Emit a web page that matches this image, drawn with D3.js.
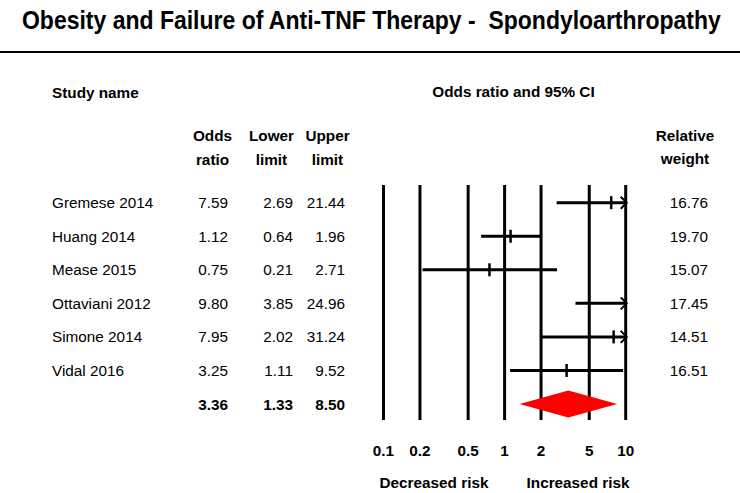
<!DOCTYPE html>
<html><head><meta charset="utf-8">
<script src="https://cdn.jsdelivr.net/npm/d3@7"></script>
<style>body{margin:0;background:#fff}svg{display:block}text{font-family:"Liberation Sans",Arial,sans-serif;fill:#000}</style>
</head><body>
<script>
const studies = ["Gremese 2014","Huang 2014","Mease 2015","Ottaviani 2012","Simone 2014","Vidal 2016"];
const oddsRatio = [7.59,1.12,0.75,9.80,7.95,3.25];
const lowerLimit = [2.69,0.64,0.21,3.85,2.02,1.11];
const upperLimit = [21.44,1.96,2.71,24.96,31.24,9.52];
const weights = ["16.76","19.70","15.07","17.45","14.51","16.51"];
const summary = {or:3.36, lo:1.33, hi:8.50};
const ticks = [0.1,0.2,0.5,1,2,5,10];

const W=740,H=493;
const svg=d3.select("body").append("svg").attr("width",W).attr("height",H);
const x=d3.scaleLog().domain([0.1,10]).range([383.5,625.7]);
const rows=[...studies,"summary"];
const y=d3.scalePoint().domain(rows).range([202.7,404]);

svg.append("text").attr("transform","translate(22,29) scale(1,1.1)").attr("font-size",23).attr("font-weight","bold")
  .attr("xml:space","preserve").style("white-space","pre")
  .text("Obesity and Failure of Anti-TNF Therapy -  Spondyloarthropathy");
svg.append("line").attr("x1",0).attr("x2",W).attr("y1",52).attr("y2",52).attr("stroke","#000").attr("stroke-width",2);

const fs=15.3;
function t(xp,yp,s,anchor,bold){return svg.append("text").attr("x",xp).attr("y",yp).attr("font-size",fs)
  .attr("text-anchor",anchor||"start").attr("font-weight",bold?"bold":"normal").attr("dominant-baseline","central").text(s);}
t(52,92,"Study name","start",true);
t(513.5,91,"Odds ratio and 95% CI","middle",true);
t(212.5,135,"Odds","middle",true); t(212.5,159,"ratio","middle",true);
t(271.5,135,"Lower","middle",true); t(271.5,159,"limit","middle",true);
t(327.5,135,"Upper","middle",true); t(327.5,159,"limit","middle",true);
t(685,135,"Relative","middle",true); t(685,158,"weight","middle",true);

studies.forEach((s,i)=>{
  const yy=y(s);
  t(52,yy,s);
  t(228,yy,oddsRatio[i].toFixed(2),"end");
  t(293,yy,lowerLimit[i].toFixed(2),"end");
  t(345,yy,upperLimit[i].toFixed(2),"end");
  t(708,yy,weights[i],"end");
});
const ys=y("summary");
t(228,ys,summary.or.toFixed(2),"end",true);
t(293,ys,summary.lo.toFixed(2),"end",true);
t(345,ys,summary.hi.toFixed(2),"end",true);

// vertical grid lines at ticks
svg.append("g").selectAll("line").data(ticks).join("line")
  .attr("x1",d=>x(d)).attr("x2",d=>x(d)).attr("y1",185).attr("y2",420)
  .attr("stroke","#000").attr("stroke-width",3);
svg.append("g").selectAll("text").data(ticks).join("text")
  .attr("x",d=>x(d)).attr("y",450).attr("text-anchor","middle").attr("dominant-baseline","central")
  .attr("font-size",fs).attr("font-weight","bold").text(d=>d);
t(434,482,"Decreased risk","middle",true);
t(578,482,"Increased risk","middle",true);

const [dmin,dmax]=x.domain();
const g=svg.append("g");
studies.forEach((s,i)=>{
  const yy=y(s);
  const lo=Math.max(lowerLimit[i],dmin), hi=Math.min(upperLimit[i],dmax);
  g.append("line").attr("x1",x(lo)).attr("x2",x(hi)).attr("y1",yy).attr("y2",yy).attr("stroke","#000").attr("stroke-width",3);
  if(oddsRatio[i]<dmax*0.97){
    g.append("line").attr("x1",x(oddsRatio[i])).attr("x2",x(oddsRatio[i])).attr("y1",yy-6.5).attr("y2",yy+6.5).attr("stroke","#000").attr("stroke-width",2.5);
  }
  if(upperLimit[i]>dmax){
    const xe=x(dmax);
    g.append("path").attr("d",`M${xe-5},${yy-6}L${xe+1},${yy}L${xe-5},${yy+6}`).attr("fill","none").attr("stroke","#000").attr("stroke-width",2);
  }
});
svg.append("path").attr("d",`M${x(summary.lo)},${ys}L${x(summary.or)},${ys-13.5}L${x(summary.hi)},${ys}L${x(summary.or)},${ys+13.5}Z`)
  .attr("fill","#ff0000");
</script>
</body></html>
